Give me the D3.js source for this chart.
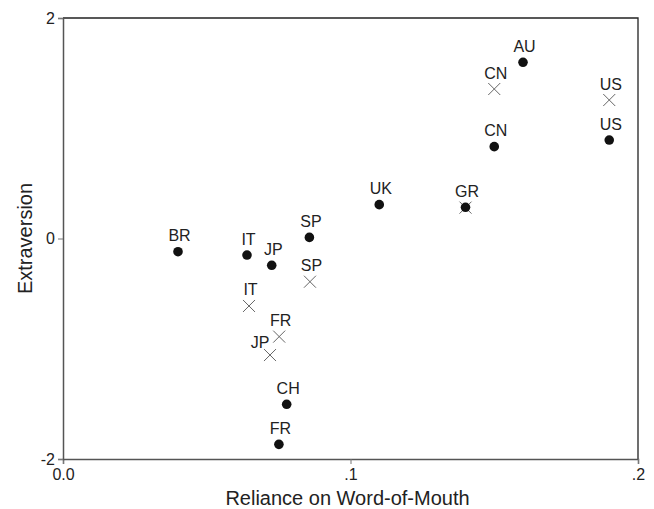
<!DOCTYPE html>
<html>
<head>
<meta charset="utf-8">
<script src="https://cdn.jsdelivr.net/npm/d3@7"></script>
<style>
  body { margin: 0; background: #fff; }
  svg text { font-family: "Liberation Sans", Arial, sans-serif; fill: #222; }
</style>
</head>
<body>
<div id="chart"></div>
<script>
// filled dots
const dotLabels = ["BR", "IT", "JP", "SP", "UK", "GR", "CN", "AU", "US", "CH", "FR"];
const dotX = [0.040, 0.064, 0.0726, 0.0857, 0.110, 0.140, 0.150, 0.160, 0.190, 0.0778, 0.0751];
const dotY = [-0.12, -0.15, -0.243, 0.01, 0.307, 0.283, 0.833, 1.598, 0.893, -1.504, -1.867];

// crosses (GR cross sits under the GR dot, label drawn once)
const crossLabels = ["CN", "US", "SP", "IT", "FR", "JP", "GR"];
const crossX = [0.150, 0.190, 0.0859, 0.0647, 0.0752, 0.072, 0.140];
const crossY = [1.356, 1.256, -0.392, -0.612, -0.89, -1.057, 0.28];

const xTicks = [0, 0.1, 0.2];
const yTicks = [-2, 0, 2];

const svgWidth = 654;
const svgHeight = 509;
const margin = { top: 18, right: 16, bottom: 50, left: 63 };
const width = svgWidth - margin.left - margin.right;
const height = svgHeight - margin.top - margin.bottom;

const svg = d3.select("#chart")
    .append("svg")
    .attr("width", svgWidth)
    .attr("height", svgHeight);

const chartGroup = svg.append("g")
    .attr("transform", `translate(${margin.left}, ${margin.top})`);

const x = d3.scaleLinear().domain([0, 0.2]).range([0, width]);
const y = d3.scaleLinear().domain([-2, 2]).range([height, 0]);

// frame (top + right)
chartGroup.append("path")
    .attr("d", `M0,0H${width}V${height}`)
    .attr("fill", "none")
    .attr("stroke", "#222")
    .attr("stroke-width", 1.3);

const xAxis = chartGroup.append("g")
    .attr("transform", `translate(0, ${height})`)
    .call(d3.axisBottom(x).tickValues(xTicks).tickSize(5).tickPadding(5)
        .tickFormat(d => d === 0 ? "0.0" : String(d).replace("0.", ".")));

const yAxis = chartGroup.append("g")
    .call(d3.axisLeft(y).tickValues(yTicks).tickSize(5).tickPadding(3)
        .tickFormat(d => String(d)));

[xAxis, yAxis].forEach(ax => {
    ax.select(".domain").attr("stroke", "#555").attr("stroke-width", 1.5);
    ax.selectAll(".tick line").attr("stroke", "#777");
    ax.selectAll(".tick text")
        .style("font-size", "16px")
        .attr("fill", "#222");
});

// crosses
const s = 6;
const crosses = crossLabels.map((l, i) => ({ label: l, x: crossX[i], y: crossY[i] }));
chartGroup.selectAll(".cross")
    .data(crosses)
    .enter()
    .append("path")
    .attr("class", "cross")
    .attr("d", d => {
        const cx = x(d.x), cy = y(d.y);
        return `M${cx - s},${cy - s}L${cx + s},${cy + s}M${cx - s},${cy + s}L${cx + s},${cy - s}`;
    })
    .attr("stroke", "#666")
    .attr("stroke-width", 1)
    .attr("fill", "none");

// dots
const dots = dotLabels.map((l, i) => ({ label: l, x: dotX[i], y: dotY[i] }));
chartGroup.selectAll(".dot")
    .data(dots)
    .enter()
    .append("circle")
    .attr("class", "dot")
    .attr("cx", d => x(d.x))
    .attr("cy", d => y(d.y))
    .attr("r", 4.8)
    .attr("fill", "#111");

// point labels
const labelled = dots.concat(crosses.filter(d => d.label !== "GR"));
chartGroup.selectAll(".pt-label")
    .data(labelled)
    .enter()
    .append("text")
    .attr("class", "pt-label")
    .attr("x", d => x(d.x) + (d === crosses[5] ? -10 : 1.5))
    .attr("y", d => y(d.y) + (d === crosses[5] ? -7 : -10.5))
    .attr("text-anchor", "middle")
    .style("font-size", "16px")
    .text(d => d.label);

// axis titles
chartGroup.append("text")
    .attr("transform", `translate(${width / 2 - 3}, ${height + 46})`)
    .attr("text-anchor", "middle")
    .style("font-size", "20px")
    .text("Reliance on Word-of-Mouth");

chartGroup.append("text")
    .attr("transform", `translate(${32 - margin.left}, ${height / 2}) rotate(-90)`)
    .attr("text-anchor", "middle")
    .style("font-size", "20px")
    .text("Extraversion");
</script>
</body>
</html>
